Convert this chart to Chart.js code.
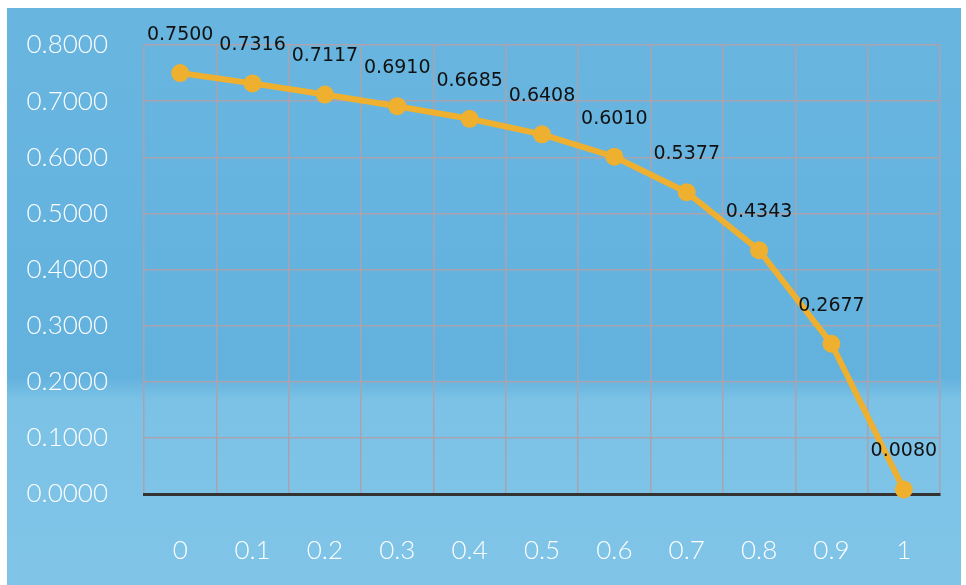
<!DOCTYPE html>
<html>
<head>
<meta charset="utf-8">
<script src="https://cdn.jsdelivr.net/npm/chart.js@4/dist/chart.umd.min.js"></script>
<style>
  html, body { margin: 0; padding: 0; background: #ffffff; }
  #wrap { position: relative; width: 966px; height: 585px; }
</style>
</head>
<body>
<div id="wrap"><canvas id="c" width="966" height="585"></canvas></div>
<script>
const categories = ['0', '0.1', '0.2', '0.3', '0.4', '0.5', '0.6', '0.7', '0.8', '0.9', '1'];
const seriesValues = [0.7500, 0.7316, 0.7117, 0.6910, 0.6685, 0.6408, 0.6010, 0.5377, 0.4343, 0.2677, 0.0080];
const yTickValues = [0, 0.1, 0.2, 0.3, 0.4, 0.5, 0.6, 0.7, 0.8];

const bgPlugin = {
  id: 'bg',
  beforeDraw(chart) {
    const ctx = chart.ctx;
    ctx.save();
    ctx.fillStyle = '#ffffff';
    ctx.fillRect(0, 0, chart.width, chart.height);
    const g = ctx.createLinearGradient(0, 8, 0, 585);
    g.addColorStop(0, '#68b6e0');
    g.addColorStop(0.64, '#63b2de');
    g.addColorStop(0.68, '#7cc2e6');
    g.addColorStop(1, '#80c5e8');
    ctx.fillStyle = g;
    ctx.fillRect(7, 8, 954, 577);
    ctx.restore();
  }
};

const labelPlugin = {
  id: 'valueLabels',
  afterDatasetsDraw(chart) {
    const ctx = chart.ctx;
    const meta = chart.getDatasetMeta(0);
    ctx.save();
    ctx.font = '19px "DejaVu Sans", Verdana, sans-serif';
    ctx.fillStyle = '#111111';
    ctx.textAlign = 'center';
    ctx.textBaseline = 'middle';
    meta.data.forEach((pt, i) => {
      ctx.fillText(seriesValues[i].toFixed(4), pt.x, pt.y - 38);
    });
    ctx.restore();
  }
};

new Chart(document.getElementById('c'), {
  type: 'line',
  data: {
    labels: categories,
    datasets: [{
      data: seriesValues,
      borderColor: '#efb02f',
      backgroundColor: '#efb02f',
      borderWidth: 6,
      pointRadius: 9,
      pointHoverRadius: 9,
      pointBorderWidth: 0,
      tension: 0,
      fill: false,
      clip: false
    }]
  },
  options: {
    responsive: false,
    animation: false,
    layout: { padding: { left: 0, top: 45, right: 26, bottom: 0 } },
    plugins: { legend: { display: false }, tooltip: { enabled: false } },
    scales: {
      x: {
        type: 'category',
        offset: true,
        grid: { display: true, offset: true, color: '#a9a3b0', lineWidth: 1.5, drawTicks: false },
        border: { display: true, color: '#333333', width: 3 },
        ticks: {
          color: '#ffffff',
          font: { family: 'Lato', size: 26, weight: 300 },
          padding: 41,
          maxRotation: 0
        },
        afterFit(scale) { scale.height = 91; scale.paddingLeft = 0; scale.paddingRight = 0; }
      },
      y: {
        min: 0,
        max: 0.8,
        afterBuildTicks(scale) { scale.ticks = yTickValues.map(v => ({ value: v })); },
        grid: { color: '#a9a3b0', lineWidth: 1.5, drawTicks: false },
        border: { display: false },
        ticks: {
          color: '#ffffff',
          font: { family: 'Lato', size: 26, weight: 300 },
          padding: 36,
          callback: (v) => Number(v).toFixed(4)
        },
        afterFit(scale) { scale.width = 144; scale.paddingTop = 0; scale.paddingBottom = 0; }
      }
    }
  },
  plugins: [bgPlugin, labelPlugin]
});
</script>
</body>
</html>
